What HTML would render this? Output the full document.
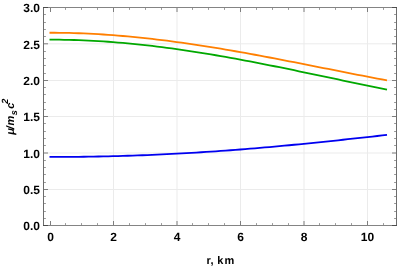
<!DOCTYPE html>
<html><head><meta charset="utf-8"><title>plot</title>
<style>
html,body{margin:0;padding:0;background:#fff;}
body{width:397px;height:267px;overflow:hidden;font-family:"Liberation Sans",sans-serif;}
svg{display:block;will-change:transform;}
</style></head>
<body>
<svg width="397" height="267" viewBox="0 0 397 267">
<rect width="397" height="267" fill="#ffffff"/>
<line x1="43.5" x2="396.5" y1="189.50" y2="189.50" stroke="#ebebeb" stroke-width="1"/>
<line x1="43.5" x2="396.5" y1="153.00" y2="153.00" stroke="#ebebeb" stroke-width="1"/>
<line x1="43.5" x2="396.5" y1="116.50" y2="116.50" stroke="#ebebeb" stroke-width="1"/>
<line x1="43.5" x2="396.5" y1="80.50" y2="80.50" stroke="#ebebeb" stroke-width="1"/>
<line x1="43.5" x2="396.5" y1="43.80" y2="43.80" stroke="#ebebeb" stroke-width="1"/>
<line x1="113.50" x2="113.50" y1="7.5" y2="225.5" stroke="#ebebeb" stroke-width="1"/>
<line x1="177.00" x2="177.00" y1="7.5" y2="225.5" stroke="#ebebeb" stroke-width="1"/>
<line x1="240.50" x2="240.50" y1="7.5" y2="225.5" stroke="#ebebeb" stroke-width="1"/>
<line x1="304.00" x2="304.00" y1="7.5" y2="225.5" stroke="#ebebeb" stroke-width="1"/>
<line x1="367.50" x2="367.50" y1="7.5" y2="225.5" stroke="#ebebeb" stroke-width="1"/>
<path d="M49.50,156.95 L54.39,156.95 L59.28,156.94 L64.17,156.92 L69.07,156.88 L73.96,156.84 L78.85,156.79 L83.74,156.73 L88.63,156.66 L93.52,156.59 L98.41,156.50 L103.30,156.40 L108.20,156.29 L113.09,156.17 L117.98,156.04 L122.87,155.90 L127.76,155.75 L132.65,155.59 L137.54,155.41 L142.43,155.23 L147.33,155.04 L152.22,154.84 L157.11,154.63 L162.00,154.40 L166.89,154.17 L171.78,153.93 L176.67,153.67 L181.57,153.41 L186.46,153.14 L191.35,152.85 L196.24,152.56 L201.13,152.26 L206.02,151.94 L210.91,151.62 L215.80,151.29 L220.70,150.95 L225.59,150.59 L230.48,150.23 L235.37,149.86 L240.26,149.48 L245.15,149.10 L250.04,148.70 L254.93,148.29 L259.83,147.88 L264.72,147.46 L269.61,147.03 L274.50,146.59 L279.39,146.15 L284.28,145.69 L289.17,145.23 L294.07,144.77 L298.96,144.29 L303.85,143.81 L308.74,143.32 L313.63,142.83 L318.52,142.33 L323.41,141.83 L328.30,141.32 L333.20,140.80 L338.09,140.28 L342.98,139.76 L347.87,139.23 L352.76,138.70 L357.65,138.16 L362.54,137.62 L367.43,137.08 L372.33,136.54 L377.22,135.99 L382.11,135.44 L387.00,134.89" fill="none" stroke="#0000f0" stroke-width="1.8"/>
<path d="M49.50,32.74 L54.39,32.75 L59.28,32.79 L64.17,32.86 L69.07,32.97 L73.96,33.10 L78.85,33.26 L83.74,33.46 L88.63,33.68 L93.52,33.93 L98.41,34.20 L103.30,34.51 L108.20,34.84 L113.09,35.20 L117.98,35.58 L122.87,35.99 L127.76,36.42 L132.65,36.88 L137.54,37.36 L142.43,37.87 L147.33,38.40 L152.22,38.95 L157.11,39.52 L162.00,40.12 L166.89,40.73 L171.78,41.37 L176.67,42.03 L181.57,42.70 L186.46,43.40 L191.35,44.11 L196.24,44.84 L201.13,45.58 L206.02,46.35 L210.91,47.13 L215.80,47.92 L220.70,48.73 L225.59,49.55 L230.48,50.39 L235.37,51.24 L240.26,52.10 L245.15,52.98 L250.04,53.86 L254.93,54.76 L259.83,55.66 L264.72,56.58 L269.61,57.50 L274.50,58.43 L279.39,59.37 L284.28,60.31 L289.17,61.26 L294.07,62.21 L298.96,63.17 L303.85,64.14 L308.74,65.10 L313.63,66.07 L318.52,67.04 L323.41,68.01 L328.30,68.98 L333.20,69.95 L338.09,70.92 L342.98,71.89 L347.87,72.86 L352.76,73.82 L357.65,74.77 L362.54,75.73 L367.43,76.67 L372.33,77.61 L377.22,78.55 L382.11,79.47 L387.00,80.39" fill="none" stroke="#ff7f00" stroke-width="1.8"/>
<path d="M49.50,39.65 L54.39,39.66 L59.28,39.70 L64.17,39.78 L69.07,39.88 L73.96,40.02 L78.85,40.18 L83.74,40.37 L88.63,40.60 L93.52,40.85 L98.41,41.13 L103.30,41.44 L108.20,41.77 L113.09,42.14 L117.98,42.53 L122.87,42.94 L127.76,43.38 L132.65,43.85 L137.54,44.34 L142.43,44.86 L147.33,45.40 L152.22,45.97 L157.11,46.56 L162.00,47.17 L166.89,47.80 L171.78,48.46 L176.67,49.13 L181.57,49.83 L186.46,50.55 L191.35,51.28 L196.24,52.04 L201.13,52.81 L206.02,53.61 L210.91,54.42 L215.80,55.24 L220.70,56.09 L225.59,56.94 L230.48,57.82 L235.37,58.70 L240.26,59.61 L245.15,60.52 L250.04,61.45 L254.93,62.39 L259.83,63.34 L264.72,64.30 L269.61,65.27 L274.50,66.25 L279.39,67.24 L284.28,68.23 L289.17,69.23 L294.07,70.24 L298.96,71.26 L303.85,72.28 L308.74,73.30 L313.63,74.33 L318.52,75.36 L323.41,76.39 L328.30,77.43 L333.20,78.46 L338.09,79.49 L342.98,80.53 L347.87,81.56 L352.76,82.58 L357.65,83.61 L362.54,84.63 L367.43,85.64 L372.33,86.65 L377.22,87.65 L382.11,88.64 L387.00,89.63" fill="none" stroke="#00a800" stroke-width="1.8"/>
<path d="M43.5,218.50h2.4 M396.5,218.50h-2.4 M43.5,211.50h2.4 M396.5,211.50h-2.4 M43.5,203.50h2.4 M396.5,203.50h-2.4 M43.5,196.50h2.4 M396.5,196.50h-2.4 M43.5,182.50h2.4 M396.5,182.50h-2.4 M43.5,174.50h2.4 M396.5,174.50h-2.4 M43.5,167.50h2.4 M396.5,167.50h-2.4 M43.5,160.50h2.4 M396.5,160.50h-2.4 M43.5,145.50h2.4 M396.5,145.50h-2.4 M43.5,138.50h2.4 M396.5,138.50h-2.4 M43.5,131.50h2.4 M396.5,131.50h-2.4 M43.5,123.50h2.4 M396.5,123.50h-2.4 M43.5,109.50h2.4 M396.5,109.50h-2.4 M43.5,102.50h2.4 M396.5,102.50h-2.4 M43.5,94.50h2.4 M396.5,94.50h-2.4 M43.5,87.50h2.4 M396.5,87.50h-2.4 M43.5,73.50h2.4 M396.5,73.50h-2.4 M43.5,65.50h2.4 M396.5,65.50h-2.4 M43.5,58.50h2.4 M396.5,58.50h-2.4 M43.5,51.50h2.4 M396.5,51.50h-2.4 M43.5,36.50h2.4 M396.5,36.50h-2.4 M43.5,29.50h2.4 M396.5,29.50h-2.4 M43.5,22.50h2.4 M396.5,22.50h-2.4 M43.5,14.50h2.4 M396.5,14.50h-2.4 M65.50,225.5v-2.4 M65.50,7.5v2.4 M81.50,225.5v-2.4 M81.50,7.5v2.4 M97.50,225.5v-2.4 M97.50,7.5v2.4 M129.50,225.5v-2.4 M129.50,7.5v2.4 M145.50,225.5v-2.4 M145.50,7.5v2.4 M161.50,225.5v-2.4 M161.50,7.5v2.4 M192.50,225.5v-2.4 M192.50,7.5v2.4 M208.50,225.5v-2.4 M208.50,7.5v2.4 M224.50,225.5v-2.4 M224.50,7.5v2.4 M256.50,225.5v-2.4 M256.50,7.5v2.4 M272.50,225.5v-2.4 M272.50,7.5v2.4 M288.50,225.5v-2.4 M288.50,7.5v2.4 M319.50,225.5v-2.4 M319.50,7.5v2.4 M335.50,225.5v-2.4 M335.50,7.5v2.4 M351.50,225.5v-2.4 M351.50,7.5v2.4 M383.50,225.5v-2.4 M383.50,7.5v2.4" fill="none" stroke="#9a9a9a" stroke-width="1"/>
<path d="M43.5,225.50h4.5 M396.5,225.50h-4.5 M43.5,189.50h4.5 M396.5,189.50h-4.5 M43.5,153.00h4.5 M396.5,153.00h-4.5 M43.5,116.50h4.5 M396.5,116.50h-4.5 M43.5,80.50h4.5 M396.5,80.50h-4.5 M43.5,43.80h4.5 M396.5,43.80h-4.5 M43.5,7.50h4.5 M396.5,7.50h-4.5 M50.50,225.5v-4.5 M50.50,7.5v4.5 M113.50,225.5v-4.5 M113.50,7.5v4.5 M177.00,225.5v-4.5 M177.00,7.5v4.5 M240.50,225.5v-4.5 M240.50,7.5v4.5 M304.00,225.5v-4.5 M304.00,7.5v4.5 M367.50,225.5v-4.5 M367.50,7.5v4.5" fill="none" stroke="#7e7e7e" stroke-width="1"/>
<path d="M43.0,7.5H397.0 M43.0,225.5H397.0" fill="none" stroke="#848484" stroke-width="1"/>
<path d="M43.5,8.0V225.0 M396.5,8.0V225.0" fill="none" stroke="#6c6c6c" stroke-width="1"/>
<path d="M43.0,7.5h5.0 M43.0,225.5h5.0 M397.0,7.5h-5.0 M397.0,225.5h-5.0" fill="none" stroke="#4c4c4c" stroke-width="1"/>
<g font-family="Liberation Sans, sans-serif" font-weight="bold" font-size="12" fill="#000" text-rendering="geometricPrecision"><text x="39.9" y="230.45" text-anchor="end">0.0</text><text x="39.9" y="194.45" text-anchor="end">0.5</text><text x="39.9" y="157.95" text-anchor="end">1.0</text><text x="39.9" y="121.45" text-anchor="end">1.5</text><text x="39.9" y="85.45" text-anchor="end">2.0</text><text x="39.9" y="48.75" text-anchor="end">2.5</text><text x="39.9" y="12.45" text-anchor="end">3.0</text><text x="50.50" y="241.2" text-anchor="middle">0</text><text x="113.50" y="241.2" text-anchor="middle">2</text><text x="177.00" y="241.2" text-anchor="middle">4</text><text x="240.50" y="241.2" text-anchor="middle">6</text><text x="304.00" y="241.2" text-anchor="middle">8</text><text x="367.50" y="241.2" text-anchor="middle">10</text><text x="206.5 210.4 213.5 217.3 224.5" y="263.6" font-size="11">r, km</text><text transform="translate(14.3,134.8) rotate(-90)" font-style="italic" font-size="11">μ<tspan dx="-1.2">/</tspan><tspan dx="0.7">m</tspan><tspan font-size="9" dy="2.3" dx="0.5">s</tspan><tspan dy="-2.3" dx="1.5">c</tspan><tspan font-size="9" dy="-6.0" dx="-1.0">2</tspan></text></g>
</svg>
</body></html>
